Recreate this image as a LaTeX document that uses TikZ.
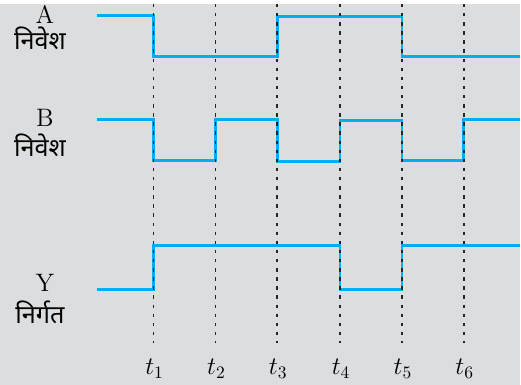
\documentclass[tikz,border=0pt]{standalone}
\usepackage{fontspec}
\newfontfamily\hindi[Script=Devanagari]{Noto Sans}
\definecolor{fondo}{HTML}{DCDDDF}
\definecolor{onda}{HTML}{00AEEF}
\begin{document}
\begin{tikzpicture}[x=0.02cm, y=-0.02cm,
    senal/.style={draw=onda, line width=1.6pt},
    guia/.style={draw=black!85, line width=1pt, dash pattern=on 2pt off 3.2pt}]
        \fill[fondo] (0,0) rectangle (521,382);

        % Formas de onda
        \draw[senal] (97,12) -- (154,12) -- (154,53) -- (278,53) -- (278,13) -- (403,13) -- (403,53) -- (521,53);
        \draw[senal] (97,116) -- (154,116) -- (154,157) -- (216,157) -- (216,116) -- (278,116) -- (278,158) -- (341,158) -- (341,117) -- (403,117) -- (403,157) -- (465,157) -- (465,116) -- (521,116);
        \draw[senal] (97,286) -- (154,286) -- (154,242) -- (341,242) -- (341,286) -- (403,286) -- (403,242) -- (521,242);

        % Lineas de tiempo
        \foreach \i/\x in {1/154,2/216,3/278,4/341,5/403,6/465} {
            \draw[guia] (\x,0) -- (\x,340);
            \node (t\i) at (\x+1,366) {\Large $t_{\i}$};
        }

        % Etiquetas
        \node (A) at (45,11) {\Large A};
        \node (Ain) at (40,34) {\Large\hindi निवेश};
        \node (B) at (45,114) {\Large B};
        \node (Bin) at (40,142) {\Large\hindi निवेश};
        \node (Y) at (45,280) {\Large Y};
        \node (Yout) at (40,309) {\Large\hindi निर्गत};
    \end{tikzpicture}
\end{document}
